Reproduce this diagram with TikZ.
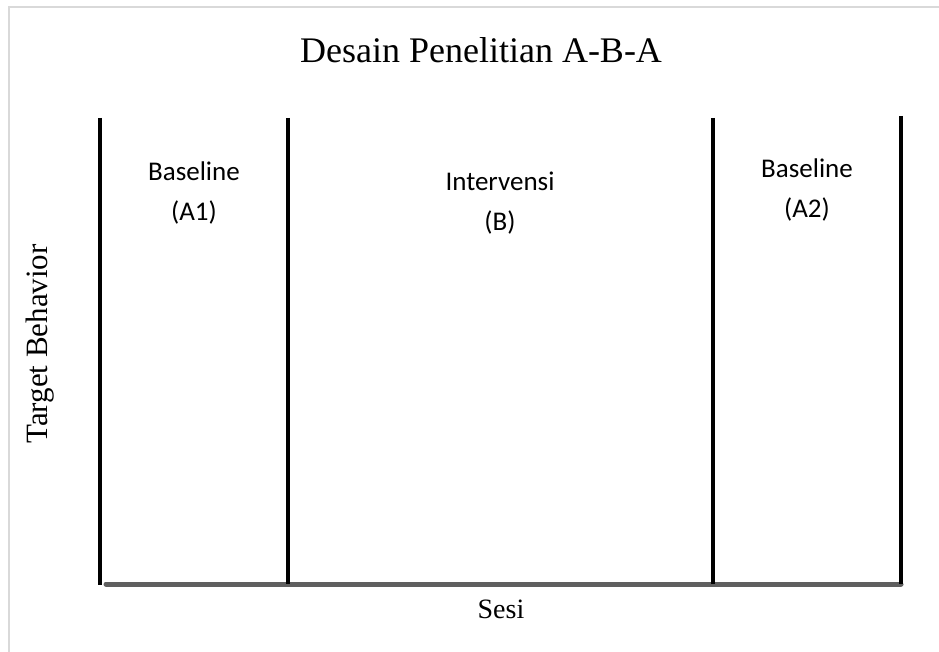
\documentclass[tikz,border=0pt]{standalone}
\usepackage{fontspec}
\setmainfont{Liberation Serif}
\newfontfamily\calibri{Carlito}
\usepackage{xcolor}
\usepackage{tikz}

\definecolor{framegray}{HTML}{D9D9D9}
\definecolor{axisgray}{HTML}{5F5F5F}

\begin{document}
\begin{tikzpicture}[x=1pt, y=-1pt]
    % Styles
    \tikzstyle{phase} = [align=center, inner sep=0pt, font=\calibri\fontsize{27}{40}\selectfont]
    \tikzstyle{caption} = [inner sep=0pt, font=\fontsize{28}{32}\selectfont]
    \tikzstyle{divider} = [line width=4pt, black]
    \tikzstyle{timeline} = [line width=5pt, axisgray, line cap=round]

    \useasboundingbox (0,0) rectangle (939,652);
    \draw[framegray, line width=2pt] (9,652) -- (9,7) -- (939,7);

    % Points
    \coordinate (a1top) at (100,118);
    \coordinate (a1bot) at (100,585);
    \coordinate (btop) at (288,118);
    \coordinate (bbot) at (288,584);
    \coordinate (a2top) at (713,118);
    \coordinate (a2bot) at (713,584);
    \coordinate (endtop) at (901,116);
    \coordinate (endbot) at (901,584);
    \coordinate (start) at (106,584);

    % Nodes
    \node[inner sep=0pt, font=\fontsize{36}{40}\selectfont] (title) at (481,50) {Desain Penelitian A-B-A};
    \node[phase] (base1) at (194,193) {Baseline\\(A1)};
    \node[phase] (interv) at (500,203) {Intervensi\\(B)};
    \node[phase] (base2) at (807,190) {Baseline\\(A2)};
    \node[caption, rotate=90, font=\fontsize{31}{34}\selectfont] (ylabel) at (40,344) {Target Behavior};
    \node[caption] (xlabel) at (501,609) {Sesi};

    % Lines
    \draw[timeline] (start) -- (endbot);
    \draw[divider] (a1top) -- (a1bot);
    \draw[divider] (btop) -- (bbot);
    \draw[divider] (a2top) -- (a2bot);
    \draw[divider] (endtop) -- (endbot);

\end{tikzpicture}
\end{document}
